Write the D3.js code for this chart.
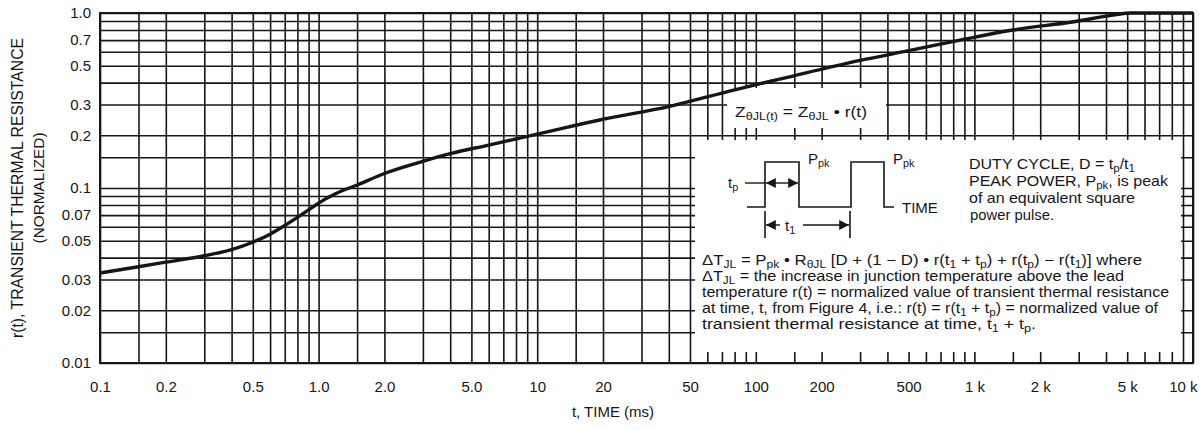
<!DOCTYPE html>
<html>
<head>
<meta charset="utf-8">
<script src="https://cdn.jsdelivr.net/npm/d3@7"></script>
<style>
  body { margin: 0; background: #fff; }
  svg { display: block; font-family: "Liberation Sans", Arial, sans-serif; }
</style>
</head>
<body>
<svg id="chart" width="1203" height="430"></svg>
<script>
// pulse time (ms) and normalized transient thermal resistance
var tMs   = [0.1, 0.15, 0.2, 0.3, 0.4, 0.5, 0.6, 0.7, 0.8, 0.9, 1.0, 1.2, 1.5, 2, 3, 4, 6, 10, 20, 40, 80, 130, 300, 520, 860, 1500, 2800, 4300, 5200, 10000];
var rNorm = [0.0327, 0.0355, 0.0377, 0.041, 0.0445, 0.049, 0.0545, 0.061, 0.068, 0.075, 0.082, 0.093, 0.104, 0.121, 0.142, 0.157, 0.176, 0.203, 0.247, 0.292, 0.364, 0.42, 0.536, 0.615, 0.70, 0.80, 0.888, 0.972, 1.0, 1.0];

var xTickVals   = [0.1, 0.2, 0.5, 1, 2, 5, 10, 20, 50, 100, 200, 500, 1000, 2000, 5000, 10000];
var xTickLabels = ["0.1", "0.2", "0.5", "1.0", "2.0", "5.0", "10", "20", "50", "100", "200", "500", "1 k", "2 k", "5 k", "10 k"];
var yTickVals   = [1, 0.7, 0.5, 0.3, 0.2, 0.1, 0.07, 0.05, 0.03, 0.02, 0.01];
var yTickLabels = ["1.0", "0.7", "0.5", "0.3", "0.2", "0.1", "0.07", "0.05", "0.03", "0.02", "0.01"];
var gridSteps   = [1, 1.5, 2, 3, 4, 5, 6, 7, 8, 9];

var ink = "#161616";
var svg = d3.select("#chart");

var x = d3.scaleLog().domain([0.1, 10000]).range([100, 1193]);
var y = d3.scaleLog().domain([0.01, 1]).range([363, 13]);

// grid values for every decade
function decadeGrid(lo, hi) {
	var out = [];
	for (var p = lo; p < hi; p *= 10) {
		gridSteps.forEach(function (s) { out.push(+(p * s).toPrecision(3)); });
	}
	out.push(hi);
	return out;
}

var gx = svg.append("g").attr("transform", "translate(0,363)")
	.call(d3.axisBottom(x).tickValues(decadeGrid(0.1, 10000)).tickSize(-350).tickFormat(""));
var gy = svg.append("g").attr("transform", "translate(100,0)")
	.call(d3.axisLeft(y).tickValues(decadeGrid(0.01, 1)).tickSize(-1093).tickFormat(""));
[gx, gy].forEach(function (g) {
	g.select(".domain").remove();
	g.selectAll("line").attr("stroke", ink).attr("stroke-width", 1.6);
});

// white panels that cover the grid
svg.append("rect").attr("x", 727).attr("y", 88).attr("width", 159).attr("height", 40).attr("fill", "#fff");
svg.append("rect").attr("x", 695).attr("y", 140).attr("width", 486).attr("height", 212).attr("fill", "#fff");

svg.append("rect").attr("x", 100).attr("y", 13).attr("width", 1093).attr("height", 350)
	.attr("fill", "none").attr("stroke", ink).attr("stroke-width", 2);

// curve
var line = d3.line()
	.x(function (d) { return x(d[0]); })
	.y(function (d) { return y(d[1]); })
	.curve(d3.curveMonotoneX);
svg.append("path")
	.datum(d3.zip(tMs, rNorm))
	.attr("d", line)
	.attr("fill", "none").attr("stroke", ink).attr("stroke-width", 3.4);

// tick labels
var xl = svg.append("g").attr("transform", "translate(0,363)")
	.call(d3.axisBottom(x).tickValues(xTickVals).tickSize(0).tickPadding(18)
		.tickFormat(function (d, i) { return xTickLabels[i]; }));
var yl = svg.append("g").attr("transform", "translate(100,0)")
	.call(d3.axisLeft(y).tickValues(yTickVals).tickSize(0).tickPadding(9)
		.tickFormat(function (d, i) { return yTickLabels[i]; }));
[xl, yl].forEach(function (g) {
	g.select(".domain").remove();
	g.selectAll("text").attr("font-size", 15).attr("fill", ink)
		.attr("font-family", "'Liberation Sans', Arial, sans-serif");
});
// last label sits flush with the right edge
xl.selectAll("text").filter(function (d) { return d == 10000; })
	.attr("text-anchor", "end").attr("dx", 4);

// axis titles
svg.append("text").attr("x", 613).attr("y", 417).attr("text-anchor", "middle")
	.attr("font-size", 15).attr("fill", ink).text("t, TIME (ms)");
svg.append("text").attr("transform", "translate(23,188) rotate(-90)").attr("text-anchor", "middle")
	.attr("font-size", 16).attr("fill", ink)
	.attr("textLength", 300).attr("lengthAdjust", "spacingAndGlyphs")
	.text("r(t), TRANSIENT THERMAL RESISTANCE");
svg.append("text").attr("transform", "translate(44,188) rotate(-90)").attr("text-anchor", "middle")
	.attr("font-size", 15).attr("fill", ink)
	.attr("textLength", 111).attr("lengthAdjust", "spacingAndGlyphs")
	.text("(NORMALIZED)");

// text with subscripts: parts = [[text], [text, "sub"], ...]
function rich(x0, y0, parts, size, len) {
	var t = svg.append("text").attr("x", x0).attr("y", y0)
		.attr("font-size", size).attr("fill", ink);
	if (len) t.attr("textLength", len).attr("lengthAdjust", "spacingAndGlyphs");
	var down = false;
	parts.forEach(function (p) {
		var s = t.append("tspan").text(p[0]);
		if (p[1] == "sub" && !down) { s.attr("dy", 3).attr("font-size", size * 0.72); down = true; }
		else if (p[1] == "sub") { s.attr("font-size", size * 0.72); }
		else if (down) { s.attr("dy", -3); down = false; }
	});
	return t;
}

rich(735, 117, [["Z"], ["θJL(t)", "sub"], [" = Z"], ["θJL", "sub"], [" • r(t)"]], 15, 132);

// pulse sketch
var pulse = [[747, 207], [765, 207], [765, 162], [799, 162], [799, 207], [851, 207], [851, 162], [884, 162], [884, 207], [894, 207]];
svg.append("path").attr("d", d3.line()(pulse)).attr("fill", "none").attr("stroke", ink).attr("stroke-width", 1.6);

var defs = svg.append("defs");
defs.append("marker").attr("id", "ah").attr("viewBox", "0 0 10 10").attr("refX", 10).attr("refY", 5)
	.attr("markerWidth", 9).attr("markerHeight", 7).attr("orient", "auto-start-reverse")
	.append("path").attr("d", "M0,0L10,5L0,10Z").attr("fill", ink);

svg.append("line").attr("x1", 745).attr("x2", 765).attr("y1", 183).attr("y2", 183).attr("stroke", ink).attr("stroke-width", 1.4);
svg.append("line").attr("x1", 766).attr("x2", 798).attr("y1", 183).attr("y2", 183).attr("stroke", ink).attr("stroke-width", 1.4)
	.attr("marker-start", "url(#ah)").attr("marker-end", "url(#ah)");
rich(728, 188, [["t"], ["p", "sub"]], 15);

[765, 850].forEach(function (xx) {
	svg.append("line").attr("x1", xx).attr("x2", xx).attr("y1", 211).attr("y2", 238).attr("stroke", ink).attr("stroke-width", 1.6);
});
svg.append("line").attr("x1", 780).attr("x2", 766).attr("y1", 225).attr("y2", 225).attr("stroke", ink).attr("stroke-width", 1.4).attr("marker-end", "url(#ah)");
svg.append("line").attr("x1", 803).attr("x2", 849).attr("y1", 225).attr("y2", 225).attr("stroke", ink).attr("stroke-width", 1.4).attr("marker-end", "url(#ah)");
rich(785, 231, [["t"], ["1", "sub"]], 15);

rich(808, 164, [["P"], ["pk", "sub"]], 15);
rich(893, 164, [["P"], ["pk", "sub"]], 15);
svg.append("text").attr("x", 902).attr("y", 213).attr("font-size", 15).attr("fill", ink).text("TIME");

rich(969, 169, [["DUTY CYCLE, D = t"], ["p", "sub"], ["/t"], ["1", "sub"]], 14.5, 166);
rich(969, 186, [["PEAK POWER, P"], ["pk", "sub"], [", is peak"]], 14.5, 199);
rich(969, 203, [["of an equivalent square"]], 14.5, 166);
rich(970, 220, [["power pulse."]], 14.5, 84);

rich(702, 265, [["ΔT"], ["JL", "sub"], [" = P"], ["pk", "sub"], [" • R"], ["θJL", "sub"], [" [D + (1 − D) • r(t"], ["1", "sub"], [" + t"], ["p", "sub"], [") + r(t"], ["p", "sub"], [") − r(t"], ["1", "sub"], [")] where"]], 14, 440);
rich(702, 281, [["ΔT"], ["JL", "sub"], [" = the increase in junction temperature above the lead"]], 14, 422);
rich(702, 297, [["temperature r(t) = normalized value of transient thermal resistance"]], 14, 467);
rich(702, 313, [["at time, t, from Figure 4, i.e.: r(t) = r(t"], ["1", "sub"], [" + t"], ["p", "sub"], [") = normalized value of"]], 14, 456);
rich(702, 329, [["transient thermal resistance at time, t"], ["1", "sub"], [" + t"], ["p", "sub"], ["."]], 14, 334);
</script>
</body>
</html>
